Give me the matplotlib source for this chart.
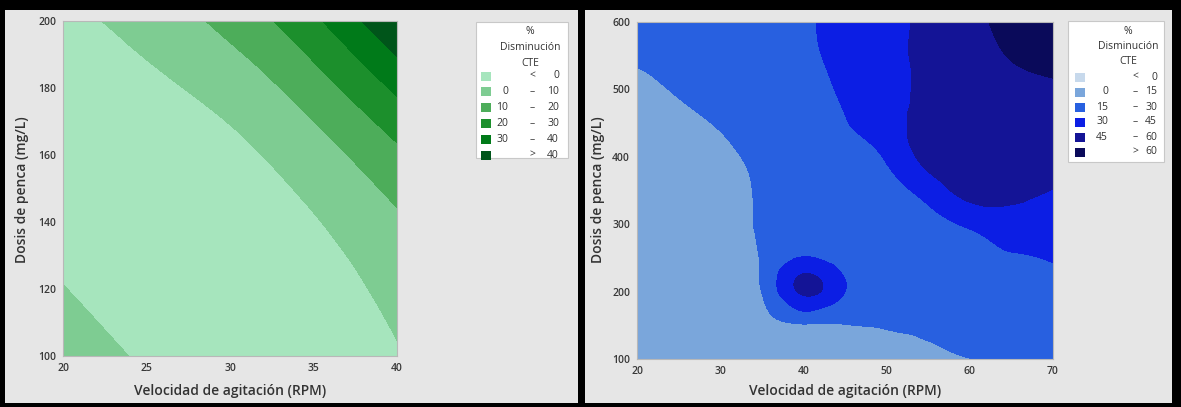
import numpy as np
import matplotlib
matplotlib.use("Agg")
import matplotlib.pyplot as plt
import matplotlib.tri as mtri
from matplotlib.patches import Rectangle

plt.rcParams['font.family'] = ['Open Sans', 'DejaVu Sans']

# ---- left chart (green): % Disminución CTE ----
vel_a = [20, 25, 30, 35, 40]              # Velocidad de agitación (RPM)
dosis_a = [100, 125, 150, 175, 200]       # Dosis de penca (mg/L)
cte_a = [                                 # rows = dosis, cols = velocidad
    [6.5, -1.4, -5.2, -4.9, -0.6],
    [-0.9, -5.5, -6.1, -3.3, 3.8],
    [-4.9, -6.2, -4.2, 2.0, 12.5],
    [-5.2, -3.2, 2.0, 12.5, 28.0],
    [-2.1, 3.4, 13.3, 28.0, 50.0],
]
levels_a = [0, 10, 20, 30, 40]
colors_a = ['#a6e5bd', '#7ecc92', '#4dad5a', '#1c8f2c', '#007a19', '#00551a']
xticks_a = [20, 25, 30, 35, 40]
yticks_a = [100, 120, 140, 160, 180, 200]

# ---- right chart (blue) ----
vel_b = [20, 25, 30, 35, 40, 45, 50, 55, 60, 65, 70]
dosis_b = [100, 150, 200, 250, 300, 350, 400, 450, 500, 550, 600]
cte_b = [
    [3.0, 5.0, 7.0, 9.0, 10.5, 11.5, 12.2, 12.5, 14.8, 17.5, 19.5],
    [3.5, 5.5, 8.0, 11.0, 13.5, 14.5, 16.0, 17.5, 21.0, 22.0, 23.0],
    [4.0, 6.0, 9.0, 15.2, 47.5, 30.0, 22.0, 22.0, 23.0, 24.0, 25.0],
    [4.5, 6.5, 9.5, 15.8, 31.0, 23.0, 23.5, 25.0, 27.0, 29.0, 31.0],
    [5.0, 7.0, 10.0, 16.0, 19.0, 22.0, 24.0, 26.0, 32.0, 37.0, 38.0],
    [6.0, 8.0, 11.0, 16.2, 20.0, 23.0, 26.0, 36.0, 51.0, 50.0, 44.5],
    [7.0, 9.0, 12.5, 17.5, 22.0, 26.0, 31.5, 50.0, 52.0, 53.0, 53.0],
    [9.0, 12.0, 16.0, 21.0, 25.0, 29.5, 38.5, 50.0, 52.0, 54.0, 55.0],
    [12.0, 16.0, 20.0, 23.5, 26.5, 31.5, 39.5, 48.0, 52.0, 55.0, 58.0],
    [16.5, 19.0, 22.0, 25.0, 28.0, 33.5, 41.0, 47.5, 52.5, 61.0, 64.0],
    [19.0, 21.0, 23.0, 26.0, 28.5, 34.6, 41.0, 48.0, 56.0, 64.0, 67.0],
]
levels_b = [0, 15, 30, 45, 60]
colors_b = ['#c7d9ec', '#7aa6db', '#2860e0', '#0c1ee4', '#141496', '#0a0a5a']
xticks_b = [20, 30, 40, 50, 60, 70]
yticks_b = [100, 200, 300, 400, 500, 600]

W, H = 1181, 407
txt = '#333333'


def fx(x):
    return x / W


def fy(y):
    return 1 - y / H


def draw_contour(ax, xs, ys, zs, levels, colors):
    z = np.array(zs, dtype=float)
    I, J = np.meshgrid(np.arange(len(xs), dtype=float), np.arange(len(ys), dtype=float))
    tri = mtri.Triangulation(I.ravel(), J.ravel())
    interp = mtri.CubicTriInterpolator(tri, z.ravel(), kind='min_E')
    refiner = mtri.UniformTriRefiner(tri)
    tri_f, z_f = refiner.refine_field(z.ravel(), triinterpolator=interp, subdiv=4)
    xf = np.interp(tri_f.x, np.arange(len(xs)), xs)
    yf = np.interp(tri_f.y, np.arange(len(ys)), ys)
    tri_d = mtri.Triangulation(xf, yf, tri_f.triangles)
    full = [-1000] + list(levels) + [1000]
    ax.tricontourf(tri_d, z_f, levels=full, colors=colors)
    ax.set_xlim(xs[0], xs[-1])
    ax.set_ylim(ys[0], ys[-1])


def style_axes(ax, xticks, yticks):
    ax.set_xticks(xticks)
    ax.set_yticks(yticks)
    ax.tick_params(length=0, labelsize=7.5, colors='#383838', pad=5)
    for lab in ax.get_xticklabels() + ax.get_yticklabels():
        lab.set_fontweight('semibold')
    for s in ax.spines.values():
        s.set_color('#b8b8b8')
        s.set_linewidth(0.8)


def draw_legend(box, title_x, row_y0, row_dy, sw_x, low_x, dash_x, up_x, levels, colors):
    x0, y0, x1, y1 = box
    fig.add_artist(Rectangle((fx(x0), fy(y1)), fx(x1 - x0), (y1 - y0) / H,
                             transform=fig.transFigure, facecolor='white',
                             edgecolor='#c8c8c8', linewidth=0.8))
    for k, t in enumerate(['%', 'Disminución', 'CTE']):
        fig.text(fx(title_x), fy(y0 + 10 + 15.5 * k), t, ha='center', va='center',
                 fontsize=7.5, color=txt)
    n = len(colors)
    for k in range(n):
        y = row_y0 + row_dy * k
        fig.add_artist(Rectangle((fx(sw_x), fy(y + 4.5)), fx(10), 9 / H,
                                 transform=fig.transFigure, facecolor=colors[k],
                                 edgecolor='none'))
        if k == 0:
            mid, lo, hi = '<', '', str(levels[0])
        elif k == n - 1:
            mid, lo, hi = '>', '', str(levels[-1])
        else:
            mid, lo, hi = '–', str(levels[k - 1]), str(levels[k])
        fig.text(fx(low_x), fy(y), lo, ha='right', va='center', fontsize=7.5, color=txt)
        fig.text(fx(dash_x), fy(y), mid, ha='center', va='center', fontsize=7.5, color=txt)
        fig.text(fx(up_x), fy(y), hi, ha='right', va='center', fontsize=7.5, color=txt)


fig = plt.figure(figsize=(W / 100, H / 100), dpi=100, facecolor='black')

# grey panels
fig.add_artist(Rectangle((fx(5), fy(403)), fx(573), 393 / H, transform=fig.transFigure,
                         facecolor='#e6e6e6', edgecolor='none', zorder=0))
fig.add_artist(Rectangle((fx(585), fy(403)), fx(587), 393 / H, transform=fig.transFigure,
                         facecolor='#e6e6e6', edgecolor='none', zorder=0))

ax1 = fig.add_axes([fx(63), fy(356), fx(334), 335 / H])
draw_contour(ax1, vel_a, dosis_a, cte_a, levels_a, colors_a)
style_axes(ax1, xticks_a, yticks_a)

ax2 = fig.add_axes([fx(637), fy(359), fx(416), 337 / H])
draw_contour(ax2, vel_b, dosis_b, cte_b, levels_b, colors_b)
style_axes(ax2, xticks_b, yticks_b)

for ax, xc, yl in [(ax1, 230, 22), (ax2, 845, 598)]:
    fig.text(fx(xc), fy(391), 'Velocidad de agitación (RPM)', ha='center', va='center',
             fontsize=10, fontweight='semibold', color=txt)
    fig.text(fx(yl), fy(190), 'Dosis de penca (mg/L)', ha='center', va='center',
             rotation=90, fontsize=10, fontweight='semibold', color=txt)

draw_legend((476, 22, 568, 158), 530, 76, 15.8, 481, 508, 532, 559, levels_a, colors_a)
draw_legend((1068, 21, 1164, 162), 1128, 77, 15.0, 1075, 1108, 1135, 1157, levels_b, colors_b)

fig.savefig('out.png', dpi=100, facecolor='black')
